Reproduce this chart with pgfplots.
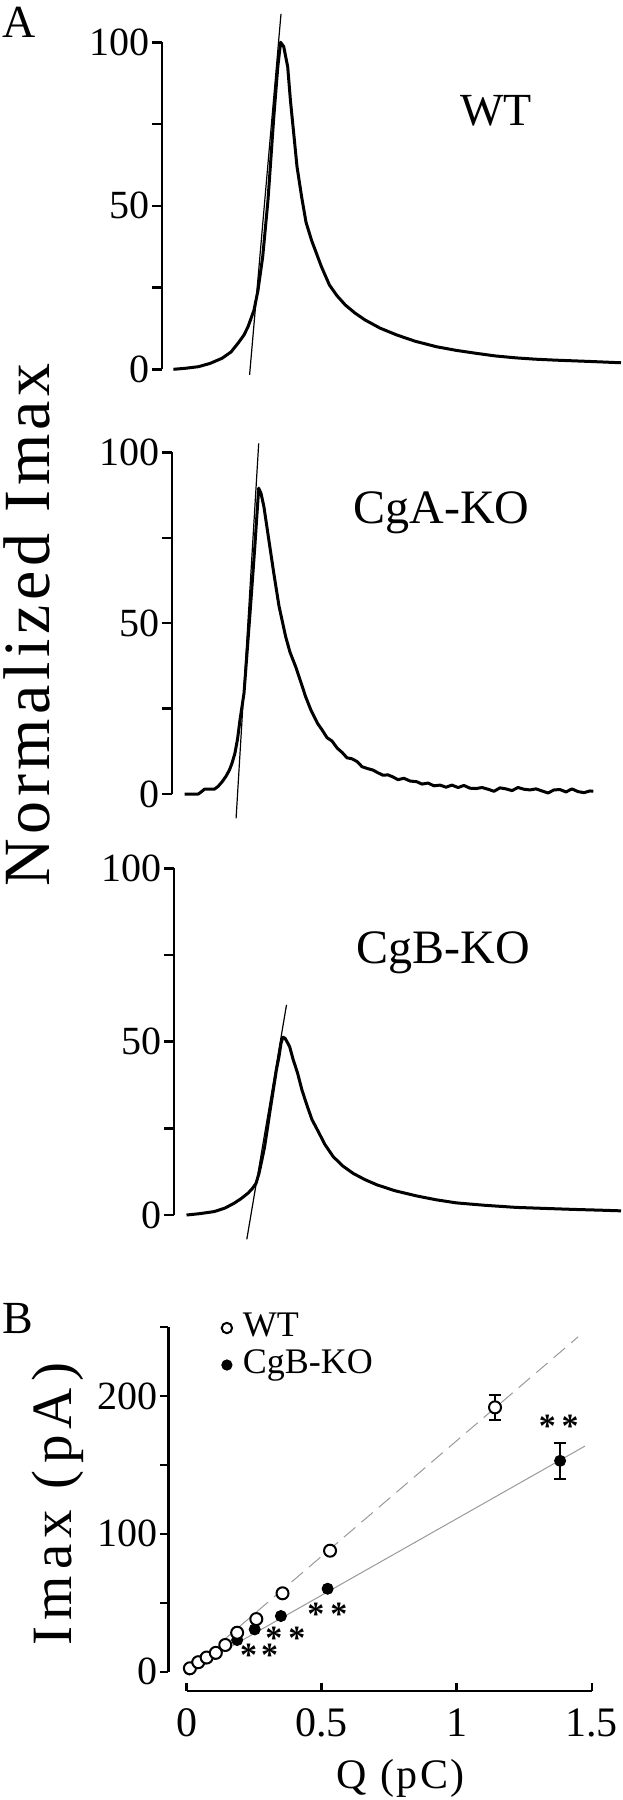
\documentclass[border=0pt]{standalone}
\usepackage{fontspec}
\setmainfont{Liberation Serif}
\newfontfamily\lsA[LetterSpace=7]{Liberation Serif}
\newfontfamily\lsB[LetterSpace=11]{Liberation Serif}
\newfontfamily\lsC[LetterSpace=6]{Liberation Serif}
\usepackage{pgfplots}
\pgfplotsset{compat=1.18}
\newcommand{\fs}[1]{\fontsize{#1}{#1}\selectfont}
\tikzset{stars/.style={font=\fs{17}\bfseries, inner sep=0pt, yshift=-2.4pt}}
\begin{document}
\begin{tikzpicture}
\path[use as bounding box] (0,0) rectangle (311pt,-900pt);
\pgfplotsset{
  panelA/.style={scale only axis, anchor=south west, clip=false,
    axis x line=none, axis y line*=left, ymin=0, ymax=100,
    ytick={0,25,50,75,100}, yticklabels={0,,50,,100},
    tick align=outside, major tick length=5pt,
    y axis line style={line width=1.2pt},
    tick style={black, line width=1.2pt},
    yticklabel style={font=\fs{20}, inner sep=1pt},
  },
  trace/.style={black, line width=1.5pt, line join=round, no markers},
  tangent/.style={black, line width=0.6pt, no markers},
}
% ---------- WT ----------
\begin{axis}[panelA, at={(81.15pt,-184.65pt)}, width=229.85pt, height=163.5pt,
  xmin=162.3, xmax=622]
\addplot[trace] coordinates {
(173.4,0) (185,0.3) (198.4,0.8) (210,1.8) (222.2,3.4) (231,5.3) (238.1,8.0)
(244,10.5) (248,13.0) (254,18.1) (258,24.2) (262.7,34.4) (268,51.8) (273.8,77.2)
(277.8,92.5) (280.6,100) (283.7,98.7) (287.7,92.5) (290.5,82) (293.7,72.2)
(297,62) (301.6,52.8) (306,45) (311.5,39.5) (321.4,31.4) (329.4,25.8)
(337,22.5) (345.2,19.7) (355,17.2) (365,15.1) (380,12.6) (396.8,10.5)
(415,8.6) (436.5,6.9) (456,5.8) (476,4.9) (495,4.1) (515.9,3.5) (535,3.1)
(555.6,2.8) (590,2.4) (621,2.0)};
\addplot[tangent] coordinates {(249.6,-1.7) (281,108.7)};
\end{axis}
% ---------- CgA-KO ----------
\begin{axis}[panelA, at={(86pt,-397pt)}, width=225pt, height=170.85pt,
  xmin=172, xmax=622]
\addplot[trace] coordinates {
(184.5,0) (198.4,0) (202,0.8) (204.4,1.4) (214.3,1.4) (218,2.2) (222.2,3.6)
(226,5.2) (229.4,7.0) (232,9.0) (234.9,11.9) (237.5,16) (240,21.7) (244,29.5)
(250,52.8) (254.8,72.3) (258.7,89.5) (261,88) (263.9,84.1) (268,76)
(273.8,64.6) (279,55) (285.7,46.0) (290,41.5) (295.6,37.3) (300,33.5)
(305.6,28.5) (311,24.5) (317.5,20.7) (322,18.8) (327,16.5) (332,15.5)
(337.3,13.4) (342,12.2) (347,10.6) (352,10.3) (357.1,9.5) (362,8.0) (367,7.5)
(373,7.0) (378,6.2) (383,5.5) (388,5.6) (392.9,5.0) (398,4.2) (404,4.6)
(410,3.8) (416.7,3.6) (422,2.9) (428,3.2) (434,2.4) (440,2.6) (446,2.0)
(452,2.6) (458,1.9) (464,2.5) (470,1.7) (476,1.6) (482,1.9) (488,1.4)
(494,0.8) (500,1.8) (506,1.5) (512,1.0) (518,1.9) (524,1.4) (530,1.2)
(536,1.5) (542,0.9) (548,0.3) (554,1.2) (560,1.3) (566,0.6) (572,1.5)
(578,0.7) (584,0.4) (590,0.9) (593.3,0.8)};
\addplot[tangent] coordinates {(236.1,-7.1) (258.7,102.6)};
\end{axis}
% ---------- CgB-KO ----------
\begin{axis}[panelA, at={(87pt,-607.5pt)}, width=224pt, height=173.35pt,
  xmin=174, xmax=622]
\addplot[trace] coordinates {
(186.5,0) (200,0.4) (214.3,1.0) (225,2.0) (234.1,3.4) (241,4.7) (248,6.3)
(252,7.5) (256,9.1) (259,12) (261.9,15.9) (264.5,19.5) (266.7,23.6) (270,30)
(273.8,37.0) (276.5,42) (279,45.7) (281,49.5) (282.9,51.3) (285,51) (287,50)
(289.7,48.5) (293,45) (297.6,40.9) (302,36) (307.5,31.2) (312,27.5)
(317.5,24.5) (325,20.3) (333.3,16.8) (343,14.1) (353.2,12.0) (365,10.2)
(377,8.7) (395,7.0) (416.7,5.5) (436,4.4) (456.3,3.5) (485,2.8) (515.9,2.2)
(545,1.9) (575.4,1.6) (600,1.4) (621,1.2)};
\addplot[tangent] coordinates {(246.8,-7.0) (286.5,60.6)};
\end{axis}
% ---------- B ----------
\begin{axis}[at={(84.15pt,-835.85pt)}, anchor=south west, scale only axis,
  width=211.7pt, height=172.3pt, xmin=-0.068, xmax=1.5, ymin=0, ymax=250,
  clip=false, axis x line=none, axis y line*=left,
  ytick={0,50,100,150,200,250}, yticklabels={0,,100,,200,},
  tick align=outside, major tick length=4.2pt,
  y axis line style={line width=1.25pt},
  tick style={black, line width=1.2pt},
  yticklabel style={font=\fs{20}, inner sep=1pt},
  legend style={at={(0.1233,0.9437)}, anchor=west, draw=none, fill=none,
    inner sep=0pt, font=\fs{18}, row sep=2.5pt,
    nodes={inner sep=0pt, text height=12pt, text depth=4pt}},
  legend cell align=left,
  legend image code/.code={\path[draw=none, fill=none] (-3pt,0) rectangle (8pt,0);
    \draw[#1, mark size=2.6pt] plot coordinates {(0pt,0pt)};},
]
\addplot[gray!80, line width=0.5pt, dash pattern=on 7.5pt off 4pt, forget plot]
  coordinates {(0,0) (1.45,243)};
\addplot[gray!80, line width=0.5pt, forget plot]
  coordinates {(0,0) (1.475,163.7)};
% CgB-KO
\addplot[only marks, mark=*, mark size=2.8pt, black, forget plot] coordinates {
(0.010,1.7) (0.037,6) (0.068,9.7) (0.105,13) (0.187,23) (0.252,30.7)
(0.349,40.4) (0.522,60.2)};
\addplot[only marks, mark=*, mark size=2.8pt, black, forget plot,
  error bars/.cd, y dir=both, y explicit,
  error bar style={line width=1.1pt, black},
  error mark options={rotate=90, mark size=3pt, line width=1.1pt}]
  coordinates {(1.383,153) +- (0,13)};
% WT
\addplot[only marks, mark=*, mark size=3pt, black,
  mark options={fill=white, line width=1pt}] coordinates {
(0.012,2.5) (0.043,6.9) (0.074,10.3) (0.108,13.7) (0.143,19.4) (0.187,28.3)
(0.258,38.2) (0.355,56.9) (0.531,87.8)};
\addlegendentry{WT}
\addplot[only marks, mark=*, mark size=3pt, black, forget plot,
  mark options={fill=white, line width=1pt},
  error bars/.cd, y dir=both, y explicit,
  error bar style={line width=1.1pt, black},
  error mark options={rotate=90, mark size=3pt, line width=1.1pt}]
  coordinates {(1.142,191.8) +- (0,9)};
\addlegendimage{only marks, mark=*, black}
\addlegendentry{CgB-KO}
% x axis (detached)
\draw[line width=1.25pt] (axis cs:0,-14) -- (axis cs:1.5,-14);
\pgfplotsinvokeforeach{0,0.5,1,1.5}{
  \draw[line width=1.2pt] (axis cs:#1,-14) -- ([yshift=4pt]axis cs:#1,-14);
  \node[anchor=north, inner sep=0pt, font=\fs{21}] at (axis cs:#1,-14)
    [yshift=-8.5pt] {#1};
}
% significance marks
\node[stars] at (axis cs:0.268,15.7) {*\kern2pt*};
\node[stars] at (axis cs:0.366,27.6) {*\kern3pt*};
\node[stars] at (axis cs:0.521,44.9) {*\kern3pt*};
\node[stars] at (axis cs:1.378,181.4) {*\kern3pt*};
\end{axis}
% ---------- labels ----------
\node[anchor=base west, inner sep=0pt, font=\fs{23}] at (1pt,-18.5pt) {A};
\node[anchor=base, font=\fs{23}] at (248pt,-62.5pt) {WT};
\node[anchor=base, font=\fs{24}] at (220.75pt,-261.65pt) {CgA-KO};
\node[anchor=base, font=\fs{24}] at (221.75pt,-481.5pt) {CgB-KO};
\node[rotate=90, anchor=base, inner sep=0pt, font={\lsA\fs{33}}] at (24.5pt,-312.5pt) {Normalized Imax};
\node[anchor=base west, inner sep=0pt, font=\fs{23}] at (1pt,-666.7pt) {B};
\node[rotate=90, anchor=base, inner sep=0pt, font={\lsB\fs{28.5}}] at (35.5pt,-752pt) {Imax (pA)};
\node[anchor=base, font={\lsC\fs{21}}] at (200.4pt,-894pt) {Q (pC)};
\end{tikzpicture}
\end{document}
